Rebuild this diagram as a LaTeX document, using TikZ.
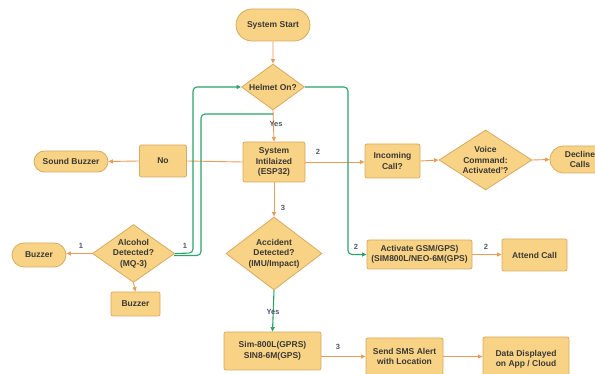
\documentclass[tikz,border=0pt]{standalone}
\usepackage{fontspec}
\setmainfont{Liberation Sans}
\usetikzlibrary{shapes.geometric,shapes.misc,arrows.meta}
\definecolor{boxfill}{HTML}{F9D385}
\definecolor{boxline}{HTML}{D6AB63}
\definecolor{txt}{HTML}{3A3935}
\definecolor{orangeln}{HTML}{EE9B58}
\definecolor{greenln}{HTML}{2BA36A}
\definecolor{labelc}{HTML}{4E5869}
\tikzset{
  base/.style={draw=boxline, fill=boxfill, line width=0.8pt, text=txt, align=center, inner sep=0pt,
    font=\fontsize{8.5}{10.5}\selectfont\bfseries},
  box/.style={base, rectangle, rounded corners=2pt},
  term/.style={base, rounded rectangle},
  dec/.style={base, diamond},
  oarrow/.style={draw=orangeln, line width=0.9pt, -{Triangle[length=4.5pt,width=4pt]}},
  oline/.style={draw=orangeln, line width=0.9pt},
  garrow/.style={draw=greenln, line width=1.1pt, rounded corners=4pt, -{Triangle[length=4.5pt,width=4pt]}},
  gline/.style={draw=greenln, line width=1.1pt, rounded corners=4pt},
  lbl/.style={text=labelc, font=\fontsize{7.5}{9}\selectfont\bfseries, inner sep=0pt}
}
\begin{document}
\begin{tikzpicture}[x=1pt,y=-1pt]
\useasboundingbox[fill=white] (0,0) rectangle (595,374);
% nodes
\node[term, minimum width=74pt, minimum height=32pt] (start) at (273,25) {System Start};
\node[dec, minimum width=63pt, minimum height=46pt, shape aspect=1.37] (helmet) at (273,87) {Helmet On?};
\node[box, minimum width=62pt, minimum height=40pt] (init) at (274,162) {System\\Intilaized\\(ESP32)};
\node[box, minimum width=47pt, minimum height=32pt] (no) at (163,161) {No};
\node[term, minimum width=74pt, minimum height=21pt] (sbuzz) at (71,161.5) {Sound Buzzer};
\node[box, minimum width=55pt, minimum height=34pt] (incoming) at (392.5,161) {Incoming\\Call?};
\node[dec, minimum width=93pt, minimum height=60pt, shape aspect=1.55] (voice) at (485.5,160) {Voice\\Command:\\Activated'?};
\node[term, minimum width=60pt, minimum height=27pt] (decline) at (580,159.5) {Decline\\Calls};
\node[dec, minimum width=96pt, minimum height=73pt, shape aspect=1.315] (accident) at (274,253.5) {Accident\\Detected?\\(IMU/Impact)};
\node[dec, minimum width=81pt, minimum height=57pt, shape aspect=1.42] (alcohol) at (133.5,253.5) {Alcohol\\Detected?\\(MQ-3)};
\node[term, minimum width=54pt, minimum height=24pt] (buzz) at (39,255) {Buzzer};
\node[box, minimum width=49pt, minimum height=24pt] (buzz2) at (135.5,304) {Buzzer};
\node[box, minimum width=105pt, minimum height=29pt] (activate) at (419.5,254.5) {Activate GSM/GPS)\\(SIM800L/NEO-6M(GPS)};
\node[box, minimum width=65pt, minimum height=32pt] (attend) at (534.5,255) {Attend Call};
\node[box, minimum width=97pt, minimum height=38pt] (sim) at (272.5,351) {Sim-800L(GPRS)\\SIN8-6M(GPS)};
\node[box, minimum width=77pt, minimum height=37pt] (sms) at (404.5,356.5) {Send SMS Alert\\with Location};
\node[box, minimum width=86pt, minimum height=45pt] (data) at (526,359.5) {Data Displayed\\on App / Cloud};
% coordinates for green routes
\coordinate (gA1) at (193,253);
\coordinate (gA2) at (193,87);
\coordinate (gB0) at (174,255.5);
\coordinate (gB1) at (201,255.5);
\coordinate (gB2) at (201,114);
\coordinate (gB3) at (273,114);
\coordinate (gC1) at (348,87);
\coordinate (gC2) at (348,254.5);
% orange connectors
\draw[oarrow] (start) -- (helmet);
\draw[oarrow] (helmet.south) -- (init.north);
\draw[oline] (init.west) -- (no.east);
\draw[oarrow] (no.west) -- (sbuzz.east);
\draw[oarrow] (init.east) -- (incoming.west |- init.east);
\draw[oarrow] (incoming.east) -- (voice.west);
\draw[oarrow] (voice.east) -- (decline.west);
\draw[oarrow] (init.south) -- (accident.north);
\draw[oarrow] (sms.west -| sim.east) -- (sms.west);
\draw[oarrow] (sms.east) -- (data.west |- sms.east);
\draw[oarrow] (alcohol.west) -- (buzz.east |- alcohol.west);
\draw[oarrow] (alcohol.south) -- (buzz2.north);
\draw[oarrow] (activate.east) -- (attend.west |- activate.east);
% green connectors
\draw[garrow] (accident.south) -- (sim.north);
\draw[garrow] (alcohol.east) -- (gA1) -- (gA2) -- (helmet.west);
\draw[gline] (gB0) -- (gB1) -- (gB2) -- (gB3);
\draw[garrow] (helmet.east) -- (gC1) -- (gC2) -- (activate.west);
% labels
\node[lbl] (lyes1) at (276,124) {Yes};
\node[lbl] (l2a) at (318,152) {2};
\node[lbl] (l3a) at (283,208) {3};
\node[lbl] (lyes2) at (273,312) {Yes};
\node[lbl] (l3b) at (338,347) {3};
\node[lbl] (l1a) at (81,246) {1};
\node[lbl] (l1b) at (185,246) {1};
\node[lbl] (l2b) at (356,247) {2};
\node[lbl] (l2c) at (486,247) {2};
\end{tikzpicture}
\end{document}
